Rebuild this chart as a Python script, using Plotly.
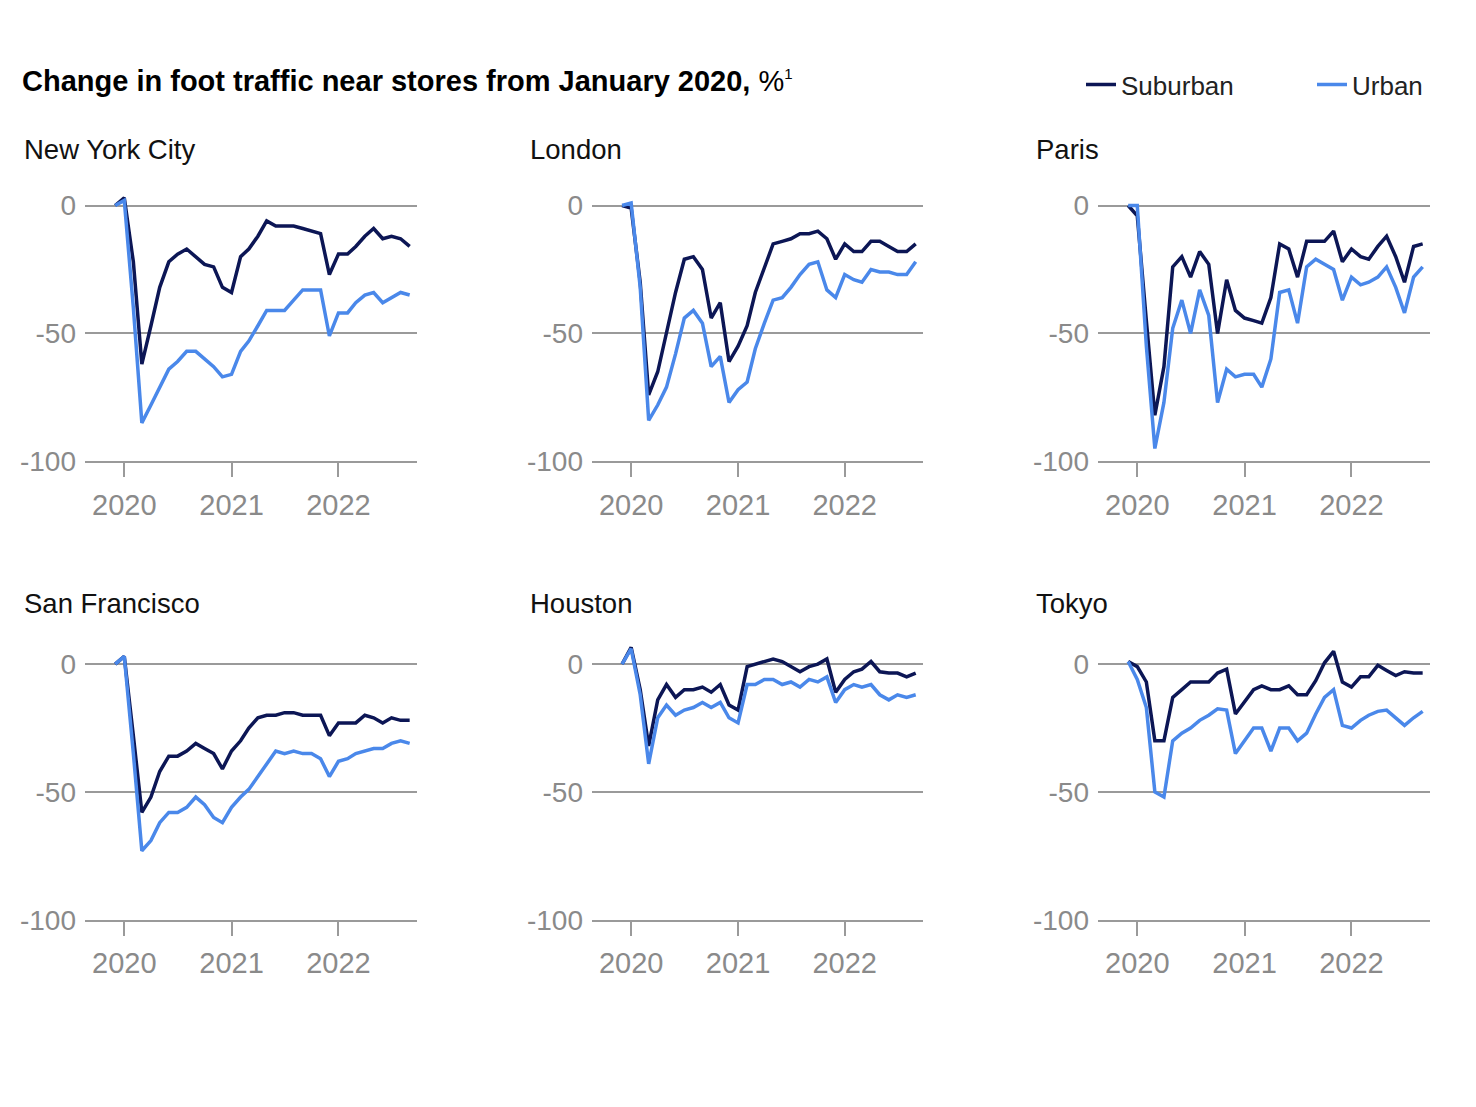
import plotly.graph_objects as go

# ---------------- data ----------------
months = ["2019-12-01", "2020-01-01", "2020-02-01", "2020-03-01", "2020-04-01", "2020-05-01",
          "2020-06-01", "2020-07-01", "2020-08-01", "2020-09-01", "2020-10-01", "2020-11-01",
          "2020-12-01", "2021-01-01", "2021-02-01", "2021-03-01", "2021-04-01", "2021-05-01",
          "2021-06-01", "2021-07-01", "2021-08-01", "2021-09-01", "2021-10-01", "2021-11-01",
          "2021-12-01", "2022-01-01", "2022-02-01", "2022-03-01", "2022-04-01", "2022-05-01",
          "2022-06-01", "2022-07-01", "2022-08-01", "2022-09-01"]

cities = ["New York City", "London", "Paris", "San Francisco", "Houston", "Tokyo"]

nyc_suburban = [0, 3, -22, -62, -47, -32, -22, -19, -17, -20, -23, -24, -32, -34, -20, -17, -12,
                -6, -8, -8, -8, -9, -10, -11, -27, -19, -19, -16, -12, -9, -13, -12, -13, -16]
nyc_urban = [0, 2, -40, -85, -78, -71, -64, -61, -57, -57, -60, -63, -67, -66, -57, -53, -47,
             -41, -41, -41, -37, -33, -33, -33, -51, -42, -42, -38, -35, -34, -38, -36, -34, -35]

london_suburban = [0, -1, -30, -74, -65, -50, -34, -21, -20, -25, -44, -38, -61, -55, -47, -34,
                   -24, -15, -14, -13, -11, -11, -10, -13, -21, -15, -18, -18, -14, -14, -16,
                   -18, -18, -15]
london_urban = [0, 1, -32, -84, -78, -71, -58, -44, -41, -46, -63, -59, -77, -72, -69, -56, -46,
                -37, -36, -32, -27, -23, -22, -33, -36, -27, -29, -30, -25, -26, -26, -27, -27,
                -22]

paris_suburban = [0, -4, -45, -82, -63, -24, -20, -28, -18, -23, -50, -29, -41, -44, -45, -46,
                  -36, -15, -17, -28, -14, -14, -14, -10, -22, -17, -20, -21, -16, -12, -20,
                  -30, -16, -15]
paris_urban = [0, 0, -55, -95, -77, -48, -37, -50, -33, -43, -77, -64, -67, -66, -66, -71, -60,
               -34, -33, -46, -24, -21, -23, -25, -37, -28, -31, -30, -28, -24, -32, -42, -28,
               -24]

sf_suburban = [0, 3, -28, -58, -52, -42, -36, -36, -34, -31, -33, -35, -41, -34, -30, -25, -21,
               -20, -20, -19, -19, -20, -20, -20, -28, -23, -23, -23, -20, -21, -23, -21, -22,
               -22]
sf_urban = [0, 3, -35, -73, -69, -62, -58, -58, -56, -52, -55, -60, -62, -56, -52, -49, -44,
            -39, -34, -35, -34, -35, -35, -37, -44, -38, -37, -35, -34, -33, -33, -31, -30, -31]

houston_suburban = [0, 6.5, -10, -32, -14, -8, -13, -10, -10, -9, -11, -8, -16, -18, -1, 0, 1,
                    2, 1, -1, -3, -1, 0, 2, -11, -6, -3, -2, 1, -3, -3.5, -3.5, -5, -3.5]
houston_urban = [0, 6, -12, -39, -21, -16, -20, -18, -17, -15, -17, -15, -21, -23, -8, -8, -6,
                 -6, -8, -7, -9, -6, -7, -5, -15, -10, -8, -9, -8, -12, -14, -12, -13, -12]

tokyo_suburban = [1, -1, -7, -30, -30, -13, -10, -7, -7, -7, -3.5, -2, -19.5, -15, -10, -8.5,
                  -10, -10, -8.5, -12, -12, -6.5, 0.5, 5, -7, -9, -5, -5, -0.5, -2.5, -4.5, -3,
                  -3.5, -3.5]
tokyo_urban = [1, -6, -17, -50, -52, -30, -27, -25, -22, -20, -17.5, -18, -35, -30, -25, -25,
               -34, -25, -25, -30, -27, -19.5, -13, -10, -24, -25, -22, -20, -18.5, -18, -21,
               -24, -21, -18.5]

suburban = [nyc_suburban, london_suburban, paris_suburban, sf_suburban, houston_suburban,
            tokyo_suburban]
urban = [nyc_urban, london_urban, paris_urban, sf_urban, houston_urban, tokyo_urban]

y_ticks = [0, -50, -100]
y_tick_labels = ["0", "-50", "-100"]
x_ticks = ["2020-01-01", "2021-01-01", "2022-01-01"]
x_tick_labels = ["2020", "2021", "2022"]

# ---------------- layout helpers ----------------
W, H = 1460, 1070
OFF = 8           # browser body margin
SY = 0.9874       # observed vertical scale of the captured picture


def px(xpix):
    return (xpix - OFF) / W


def py(ypix):
    # small empirical correction of vertical placement
    yp = 205 + (ypix - 204) / 0.9986
    return 1 - ((yp - OFF) / SY) / H


SUB_COLOR = "#0c1655"
URB_COLOR = "#4a88ea"
GRID = "#9a9a9a"
FONT = "Liberation Sans, Arial, sans-serif"
XTICKFONT = dict(family=FONT, size=29, color="#8a8a8a")
YTICKFONT = dict(family=FONT, size=28, color="#8a8a8a")

col_x = [(85, 417), (592, 923), (1098, 1430)]
row_y = [(179.4, 461), (638.4, 920)]
title_x = [22, 528, 1034]
title_y = [148.5, 603.5]

fig = go.Figure()
layout = {}
annotations = []

for i, city in enumerate(cities):
    r, c = divmod(i, 3)
    n = i + 1
    xa = "x" if n == 1 else f"x{n}"
    ya = "y" if n == 1 else f"y{n}"
    fig.add_trace(go.Scatter(x=months, y=suburban[i], mode="lines", name="Suburban",
                             line=dict(color=SUB_COLOR, width=3.5), xaxis=xa, yaxis=ya,
                             showlegend=(i == 0), legend="legend"))
    fig.add_trace(go.Scatter(x=months, y=urban[i], mode="lines", name="Urban",
                             line=dict(color=URB_COLOR, width=3.5), xaxis=xa, yaxis=ya,
                             showlegend=(i == 0), legend="legend2"))
    x0, x1 = col_x[c]
    ytop, ybot = row_y[r]
    layout[f"xaxis{'' if n == 1 else n}"] = dict(
        domain=[px(x0), px(x1)], anchor=ya, type="date",
        range=["2019-08-20", "2022-09-26"],
        tickvals=x_ticks, ticktext=x_tick_labels, ticks="outside", ticklen=14,
        tickwidth=1.5, tickcolor=GRID, showgrid=False, zeroline=False,
        showline=True, linecolor=GRID, linewidth=1.5,
        tickfont=XTICKFONT, ticklabelstandoff=3, fixedrange=True)
    layout[f"yaxis{'' if n == 1 else n}"] = dict(
        domain=[py(ybot), py(ytop)], anchor=xa, range=[-100, 10],
        tickvals=y_ticks, ticktext=y_tick_labels, ticks="", showgrid=True,
        gridcolor=GRID, gridwidth=1.5, zeroline=False, showline=False,
        tickfont=YTICKFONT, ticklabelstandoff=8, fixedrange=True)
    annotations.append(dict(text=city, x=px(title_x[c]), y=py(title_y[r]), xref="paper",
                            yref="paper", xanchor="left", yanchor="middle", showarrow=False,
                            font=dict(family=FONT, size=27.5, color="#111111")))

annotations.append(dict(
    text="<b>Change in foot traffic near stores from January 2020,</b> %"
         "<sup><span style='font-size:15px'>1</span></sup>",
    x=px(20), y=py(80), xref="paper", yref="paper", xanchor="left", yanchor="middle",
    showarrow=False,
    font=dict(family=FONT, size=29, color="#000000")))

legend_style = dict(orientation="h", xanchor="left", yanchor="middle", y=py(84),
                    font=dict(family=FONT, size=26, color="#222222"),
                    itemwidth=30, bgcolor="rgba(0,0,0,0)")

fig.update_layout(
    width=W, height=H, margin=dict(l=0, r=0, t=0, b=0),
    paper_bgcolor="white", plot_bgcolor="white",
    annotations=annotations,
    legend=dict(x=px(1081), **legend_style),
    legend2=dict(x=px(1312), **legend_style),
    **layout)

fig.write_html("out.html")
